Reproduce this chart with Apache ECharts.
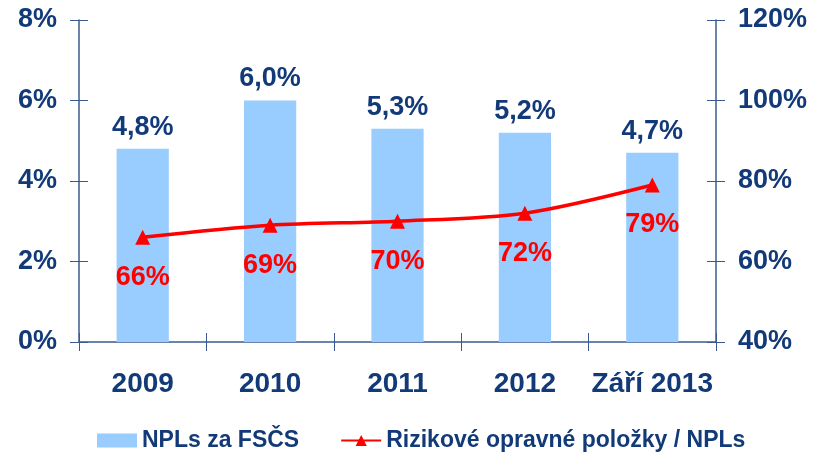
<!DOCTYPE html>
<html>
<head>
<meta charset="utf-8">
<script src="https://cdn.jsdelivr.net/npm/echarts@6/dist/echarts.min.js"></script>
<style>
  html, body { margin: 0; padding: 0; background: #fff; }
  #chart { width: 813px; height: 453px; }
</style>
</head>
<body>
<div id="chart"></div>
<script>
var categories = ["2009", "2010", "2011", "2012", "Září 2013"];
var nplValues = [4.8, 6.0, 5.3, 5.2, 4.7];
var provisionValues = [66, 69, 70, 72, 79];
var leftTicks = [0, 2, 4, 6, 8];
var rightTicks = [40, 60, 80, 100, 120];

var navy = "#123a78";
var axisColor = "#3b5a8f";
var sans = "'Liberation Sans', Arial, sans-serif";

var chart = echarts.init(document.getElementById("chart"));

function pct(v) {
  return String(v) + "%";
}

// ticks in the reference cross the axis, so each axis gets a twin with inside ticks
var option = {
  animation: false,
  grid: { left: 79, right: 97, top: 20, bottom: 111 },
  legend: {
    top: 424,
    left: 92,
    itemGap: 41,
    itemWidth: 40,
    itemHeight: 14,
    textStyle: { color: navy, fontSize: 23, fontWeight: "bold", fontFamily: sans },
    data: [
      { name: "NPLs za FSČS", icon: "rect" },
      { name: "Rizikové opravné položky / NPLs" }
    ]
  },
  xAxis: [
    {
      type: "category",
      data: categories,
      axisLine: { lineStyle: { color: axisColor, width: 1.5 } },
      axisTick: { show: true, length: 9, interval: 0, lineStyle: { color: axisColor } },
      axisLabel: { color: navy, fontSize: 28, fontWeight: "bold", fontFamily: sans, margin: 28, interval: 0 }
    },
    {
      type: "category",
      data: categories,
      position: "bottom",
      axisLine: { show: false },
      axisTick: { show: true, inside: true, length: 9, interval: 0, lineStyle: { color: axisColor } },
      axisLabel: { show: false, interval: 0 }
    }
  ],
  yAxis: [
    {
      type: "value",
      min: leftTicks[0],
      max: leftTicks[leftTicks.length - 1],
      interval: 2,
      splitLine: { show: false },
      axisLine: { show: true, lineStyle: { color: axisColor, width: 1.5 } },
      axisTick: { show: true, length: 9, lineStyle: { color: axisColor } },
      axisLabel: { color: navy, fontSize: 27, fontWeight: "bold", fontFamily: sans, margin: 22, formatter: pct }
    },
    {
      type: "value",
      min: rightTicks[0],
      max: rightTicks[rightTicks.length - 1],
      interval: 20,
      position: "right",
      splitLine: { show: false },
      axisLine: { show: true, lineStyle: { color: axisColor, width: 1.5 } },
      axisTick: { show: true, length: 9, lineStyle: { color: axisColor } },
      axisLabel: { color: navy, fontSize: 27, fontWeight: "bold", fontFamily: sans, margin: 22, formatter: pct }
    },
    {
      type: "value",
      min: leftTicks[0],
      max: leftTicks[leftTicks.length - 1],
      interval: 2,
      position: "left",
      splitLine: { show: false },
      axisLine: { show: false },
      axisTick: { show: true, inside: true, length: 9, lineStyle: { color: axisColor } },
      axisLabel: { show: false }
    },
    {
      type: "value",
      min: rightTicks[0],
      max: rightTicks[rightTicks.length - 1],
      interval: 20,
      position: "right",
      splitLine: { show: false },
      axisLine: { show: false },
      axisTick: { show: true, inside: true, length: 9, lineStyle: { color: axisColor } },
      axisLabel: { show: false }
    }
  ],
  series: [
    {
      name: "NPLs za FSČS",
      type: "bar",
      yAxisIndex: 0,
      barWidth: "41%",
      data: nplValues,
      itemStyle: { color: "#99ccff" },
      label: {
        show: true,
        position: "top",
        distance: 8,
        color: navy,
        fontSize: 27,
        fontWeight: "bold",
        fontFamily: sans,
        formatter: function (p) { return p.value.toFixed(1).replace(".", ",") + "%"; }
      }
    },
    {
      name: "Rizikové opravné položky / NPLs",
      type: "line",
      yAxisIndex: 1,
      smooth: 0.3,
      data: provisionValues,
      symbol: "triangle",
      symbolSize: 15,
      lineStyle: { color: "#ff0000", width: 3.5 },
      itemStyle: { color: "#ff0000" },
      label: {
        show: true,
        position: "bottom",
        distance: 19,
        color: "#ff0000",
        fontSize: 27,
        fontWeight: "bold",
        fontFamily: sans,
        formatter: function (p) { return p.value + "%"; }
      }
    }
  ]
};

chart.setOption(option);
</script>
</body>
</html>
